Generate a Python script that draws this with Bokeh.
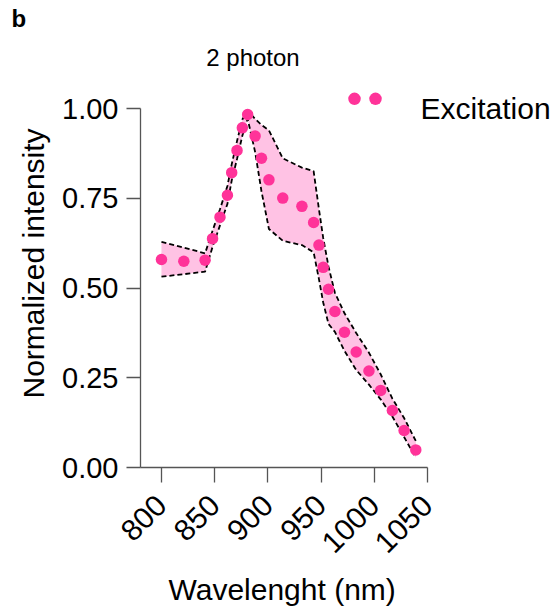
import math
from bokeh.plotting import figure
from bokeh.models import Range1d, Label, FixedTicker, Title
from bokeh.embed import file_html
from bokeh.resources import INLINE

# ---- data ----
wavelength = [800, 821, 841, 848, 855, 862, 866, 871, 876, 881, 888, 894, 901,
              914, 932, 943, 948, 952, 957, 963, 972, 983, 995, 1006, 1017,
              1028, 1039]
excitation = [0.580, 0.575, 0.578, 0.638, 0.698, 0.759, 0.822, 0.884, 0.947,
              0.984, 0.924, 0.862, 0.802, 0.751, 0.728, 0.683, 0.620, 0.558,
              0.497, 0.435, 0.377, 0.322, 0.269, 0.215, 0.159, 0.103, 0.049]
upper = [0.629, 0.613, 0.597, 0.660, 0.720, 0.785, 0.845, 0.910, 0.970, 0.995,
         0.972, 0.955, 0.940, 0.862, 0.836, 0.826, 0.720, 0.640, 0.560, 0.487,
         0.430, 0.375, 0.320, 0.260, 0.192, 0.138, 0.074]
lower = [0.532, 0.539, 0.546, 0.615, 0.675, 0.735, 0.800, 0.860, 0.925, 0.972,
         0.880, 0.770, 0.665, 0.632, 0.620, 0.600, 0.525, 0.460, 0.400, 0.378,
         0.325, 0.272, 0.231, 0.190, 0.142, 0.085, 0.027]
x_ticks = [800, 850, 900, 950, 1000, 1050]
y_ticks = [0.0, 0.25, 0.5, 0.75, 1.0]
y_tick_labels = {0.0: "0.00", 0.25: "0.25", 0.5: "0.50", 0.75: "0.75", 1.0: "1.00"}

PINK = "#FF3399"
BAND = "#FFC2E4"
AXIS = "#555555"
FONT = "Liberation Sans"

W, H = 560, 614
LEFT, TOP, BOTTOM = 140, 32, 147
X0, XS = 780.3, 1.0641      # data at frame left, px per nm
YS = 358.7                  # px per unit intensity
frame_w = W - LEFT
frame_h = H - TOP - BOTTOM
x_end = X0 + frame_w / XS
y_end = frame_h / YS


def px(xp):
    return X0 + (xp - LEFT) / XS


def py(yp):
    return (H - BOTTOM - yp) / YS


p = figure(width=W, height=H, output_backend="svg", toolbar_location=None,
           x_range=Range1d(X0, x_end), y_range=Range1d(0, y_end),
           min_border_left=LEFT, min_border_right=0, min_border_top=TOP,
           min_border_bottom=BOTTOM)
p.outline_line_color = None
p.grid.visible = False
p.background_fill_color = "white"
p.border_fill_color = "white"

# band
p.varea(x=wavelength, y1=lower, y2=upper, fill_color=BAND, fill_alpha=1.0)
p.line(wavelength, upper, line_color="black", line_width=1.8, line_dash="5 3")
p.line(wavelength, lower, line_color="black", line_width=1.8, line_dash="5 3")
p.scatter(wavelength, excitation, size=11.5, fill_color=PINK, line_color=None)

# axes
for ax in (p.xaxis[0], p.yaxis[0]):
    ax.axis_line_color = AXIS
    ax.axis_line_width = 1.3
    ax.major_tick_line_color = AXIS
    ax.major_tick_line_width = 1.3
    ax.major_tick_in = 0
    ax.minor_tick_line_color = None
    ax.major_label_text_font = FONT
    ax.major_label_text_color = "black"

p.xaxis.bounds = (X0, 1050)
p.xaxis.ticker = FixedTicker(ticks=x_ticks)
p.xaxis.major_tick_out = 15
p.xaxis.major_label_orientation = math.pi / 4
p.xaxis.major_label_standoff = 18
p.xaxis.major_label_text_font_size = "30px"

p.yaxis.bounds = (0, 1)
p.yaxis.ticker = FixedTicker(ticks=y_ticks)
p.yaxis.major_label_overrides = y_tick_labels
p.yaxis.major_tick_out = 14
p.yaxis.major_label_standoff = 8
p.yaxis.major_label_text_font_size = "29px"

# axis titles, positioned against the 0..1 / 780..1050 part of the frame
p.add_layout(Title(text="Wavelenght (nm)", align="left", offset=28,
                   text_font=FONT, text_font_size="30px",
                   text_font_style="normal", text_color="black",
                   standoff=12), "below")
p.add_layout(Title(text="Normalized intensity", align="left", offset=69,
                   text_font=FONT, text_font_size="30px",
                   text_font_style="normal", text_color="black",
                   standoff=20), "left")

# panel letter
p.add_layout(Title(text="b", align="left", offset=-129, vertical_align="bottom",
                   text_font=FONT, text_font_size="24px",
                   text_font_style="bold", text_color="black",
                   standoff=2), "above")

# title and legend inside the frame area
p.add_layout(Label(x=px(252.5), y=py(57), text="2 photon", text_align="center",
                   text_baseline="alphabetic", text_font=FONT,
                   text_font_size="24px", text_color="black"))
p.scatter([px(354), px(375)], [py(98.3), py(98.3)], size=12.5,
          fill_color=PINK, line_color=None)
p.add_layout(Label(x=px(420), y=py(108.3), text="Excitation", text_align="left",
                   text_baseline="alphabetic", text_font=FONT,
                   text_font_size="30px", text_color="black"))

open("out.html", "w").write(file_html(p, INLINE))
